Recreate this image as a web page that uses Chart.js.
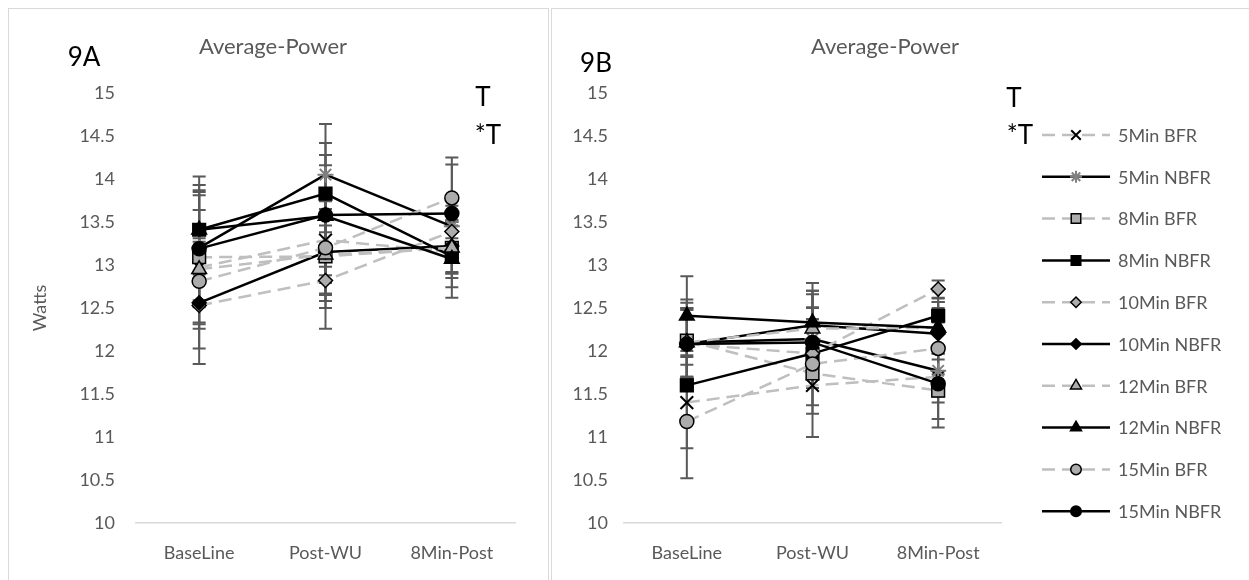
<!DOCTYPE html>
<html>
<head>
<meta charset="utf-8">
<script src="https://cdn.jsdelivr.net/npm/chart.js@4.4.1/dist/chart.umd.min.js"></script>
<style>
  html, body { margin: 0; padding: 0; background: #fff; }
  body { width: 1249px; height: 580px; position: relative; overflow: hidden; font-family: Lato, "Open Sans", sans-serif; }
  .panel { position: absolute; border: 1px solid #d9d9d9; box-sizing: border-box; }
  canvas { position: absolute; }
  .txt { position: absolute; white-space: nowrap; line-height: 1; transform: translate(-50%, -50%); }
  .tag { font-size: 26px; color: #000; }
  .ttl { font-size: 22px; color: #595959; }
</style>
</head>
<body>
<div class="panel" style="left:8px;top:8px;width:541px;height:600px;"></div>
<div class="panel" style="left:551px;top:8px;width:720px;height:600px;"></div>
<canvas id="chartA" width="540" height="572" style="left:8px;top:8px;"></canvas>
<canvas id="chartB" width="698" height="572" style="left:551px;top:8px;"></canvas>

<div class="txt tag" style="left:84px;top:56px;">9A</div>
<div class="txt ttl" style="left:273px;top:46px;">Average-Power</div>
<div class="txt tag" style="left:483px;top:96px;">T</div>
<div class="txt tag" style="left:488px;top:134px;">*T</div>

<div class="txt tag" style="left:596px;top:62px;">9B</div>
<div class="txt ttl" style="left:885px;top:46px;">Average-Power</div>
<div class="txt tag" style="left:1014px;top:97px;">T</div>
<div class="txt tag" style="left:1020px;top:134px;">*T</div>

<script>
// Time points on the x axis
const categories = ['BaseLine', 'Post-WU', '8Min-Post'];
const seriesNames = ['5Min BFR', '5Min NBFR', '8Min BFR', '8Min NBFR', '10Min BFR',
                     '10Min NBFR', '12Min BFR', '12Min NBFR', '15Min BFR', '15Min NBFR'];
// Watts axis
const yMin = 10;
const yMax = 15;
const yStep = 0.5;

// 9A: mean average power (W) per condition
const a5BFR   = [12.97, 13.29, 13.15];
const a5NBFR  = [13.20, 14.05, 13.45];
const a8BFR   = [13.09, 13.10, 13.20];
const a8NBFR  = [13.41, 13.83, 13.10];
const a10BFR  = [12.53, 12.82, 13.39];
const a10NBFR = [12.56, 13.15, 13.22];
const a12BFR  = [12.95, 13.12, 13.20];
const a12NBFR = [13.41, 13.57, 13.07];
const a15BFR  = [12.81, 13.20, 13.78];
const a15NBFR = [13.19, 13.58, 13.60];

// 9A: standard deviations
const a5BFRsd   = [0.45, 0.50, 0.30];
const a5NBFRsd  = [0.61, 0.59, 0.30];
const a8BFRsd   = [0.76, 0.43, 0.30];
const a8NBFRsd  = [0.52, 0.59, 0.36];
const a10BFRsd  = [0.50, 0.56, 0.30];
const a10NBFRsd = [0.71, 0.50, 0.30];
const a12BFRsd  = [0.69, 0.62, 0.30];
const a12NBFRsd = [0.62, 0.59, 0.45];
const a15BFRsd  = [0.50, 0.62, 0.47];
const a15NBFRsd = [0.68, 0.70, 0.57];

// 9B: mean average power (W) per condition
const b5BFR   = [11.40, 11.60, 11.70];
const b5NBFR  = [12.10, 12.14, 11.77];
const b8BFR   = [12.12, 11.74, 11.54];
const b8NBFR  = [11.60, 11.97, 12.41];
const b10BFR  = [12.08, 11.97, 12.72];
const b10NBFR = [12.08, 12.30, 12.20];
const b12BFR  = [12.10, 12.26, 12.27];
const b12NBFR = [12.41, 12.33, 12.27];
const b15BFR  = [11.18, 11.85, 12.03];
const b15NBFR = [12.08, 12.10, 11.62];

// 9B: standard deviations
const b5BFRsd   = [0.53, 0.33, 0.30];
const b5NBFRsd  = [0.40, 0.37, 0.30];
const b8BFRsd   = [0.44, 0.37, 0.43];
const b8NBFRsd  = [0.40, 0.40, 0.20];
const b10BFRsd  = [0.40, 0.40, 0.10];
const b10NBFRsd = [0.52, 0.40, 0.30];
const b12BFRsd  = [0.40, 0.40, 0.30];
const b12NBFRsd = [0.46, 0.46, 0.30];
const b15BFRsd  = [0.66, 0.85, 0.30];
const b15NBFRsd = [0.40, 0.40, 0.41];

const meansA = [a5BFR, a5NBFR, a8BFR, a8NBFR, a10BFR, a10NBFR, a12BFR, a12NBFR, a15BFR, a15NBFR];
const sdsA   = [a5BFRsd, a5NBFRsd, a8BFRsd, a8NBFRsd, a10BFRsd, a10NBFRsd, a12BFRsd, a12NBFRsd, a15BFRsd, a15NBFRsd];
const meansB = [b5BFR, b5NBFR, b8BFR, b8NBFR, b10BFR, b10NBFR, b12BFR, b12NBFR, b15BFR, b15NBFR];
const sdsB   = [b5BFRsd, b5NBFRsd, b8BFRsd, b8NBFRsd, b10BFRsd, b10NBFRsd, b12BFRsd, b12NBFRsd, b15BFRsd, b15NBFRsd];

// Marker shape per series; BFR rows are dashed grey, NBFR rows solid black
const markerShapes = ['crossRot', 'star', 'rect', 'rect', 'rectRot', 'rectRot', 'triangle', 'triangle', 'circle', 'circle'];
const markerRadius = { crossRot: 9, star: 8, rect: 9, rectRot: 7, triangle: 8.5, circle: 7 };

const FONT = 'Lato, "Open Sans", sans-serif';
const TEXT_GREY = '#595959';

function buildDatasets(means, sds) {
  return seriesNames.map((name, i) => {
    const bfr = !name.includes('NBFR');
    const shape = markerShapes[i];
    let fill = bfr ? '#acacac' : '#000000';
    let edge = '#000000';
    if (shape === 'crossRot') { fill = '#000000'; edge = '#000000'; }
    if (shape === 'star') { fill = '#808080'; edge = '#808080'; }
    return {
      label: name,
      data: means[i],
      errors: sds[i],
      borderColor: bfr ? '#bfbfbf' : '#000000',
      borderWidth: 2.5,
      borderDash: bfr ? [13, 7] : [],
      pointStyle: shape,
      pointRadius: markerRadius[shape],
      pointHoverRadius: markerRadius[shape],
      pointBackgroundColor: fill,
      pointBorderColor: edge,
      pointBorderWidth: (shape === 'crossRot' || shape === 'star') ? 2 : 1.5,
      tension: 0,
      fill: false,
      order: seriesNames.length - i
    };
  });
}

// Vertical SD whiskers with caps, drawn beneath lines and markers
const errorBars = {
  id: 'errorBars',
  beforeDatasetsDraw(chart) {
    const { ctx, scales: { x, y } } = chart;
    ctx.save();
    ctx.strokeStyle = '#595959';
    ctx.lineWidth = 2;
    chart.data.datasets.forEach(ds => {
      ds.data.forEach((v, i) => {
        const e = ds.errors[i];
        const px = x.getPixelForValue(i);
        const top = y.getPixelForValue(v + e);
        const bot = y.getPixelForValue(v - e);
        ctx.beginPath();
        ctx.moveTo(px, top); ctx.lineTo(px, bot);
        ctx.moveTo(px - 6.5, top); ctx.lineTo(px + 6.5, top);
        ctx.moveTo(px - 6.5, bot); ctx.lineTo(px + 6.5, bot);
        ctx.stroke();
      });
    });
    ctx.restore();
  }
};

// Legend column: line sample with centred marker, then the series name
const sideLegend = {
  id: 'sideLegend',
  afterDraw(chart, args, opts) {
    if (!opts.show) return;
    const ctx = chart.ctx;
    chart.data.datasets.forEach((ds, i) => {
      const y = opts.top + i * opts.step;
      ctx.save();
      ctx.strokeStyle = ds.borderColor;
      ctx.lineWidth = ds.borderWidth;
      ctx.setLineDash(ds.borderDash);
      ctx.beginPath();
      ctx.moveTo(opts.x0, y); ctx.lineTo(opts.x1, y);
      ctx.stroke();
      ctx.setLineDash([]);
      ctx.fillStyle = ds.pointBackgroundColor;
      ctx.strokeStyle = ds.pointBorderColor;
      ctx.lineWidth = ds.pointBorderWidth;
      Chart.helpers.drawPoint(ctx, {
        pointStyle: ds.pointStyle,
        radius: ds.pointRadius * 0.75,
        rotation: 0,
        borderWidth: ds.pointBorderWidth
      }, (opts.x0 + opts.x1) / 2, y);
      ctx.fillStyle = TEXT_GREY;
      ctx.font = '18px ' + FONT;
      ctx.textBaseline = 'middle';
      ctx.textAlign = 'left';
      ctx.fillText(ds.label, opts.textX, y + 1);
      ctx.restore();
    });
  }
};

function makeChart(id, means, sds, geo) {
  return new Chart(document.getElementById(id), {
    type: 'line',
    data: { labels: categories, datasets: buildDatasets(means, sds) },
    plugins: [errorBars, sideLegend],
    options: {
      responsive: false,
      animation: false,
      events: [],
      layout: { padding: geo.padding },
      plugins: {
        legend: { display: false },
        title: { display: false },
        tooltip: { enabled: false },
        sideLegend: geo.legend
      },
      scales: {
        x: {
          type: 'category',
          offset: true,
          grid: { display: false, drawTicks: false },
          border: { display: true, color: '#d9d9d9', width: 1.5 },
          ticks: { color: TEXT_GREY, font: { family: FONT, size: 18 }, padding: 19, maxRotation: 0 },
          afterFit(scale) { scale.height = 40; }
        },
        y: {
          min: yMin,
          max: yMax,
          grid: { display: false, drawTicks: false },
          border: { display: false },
          ticks: {
            stepSize: yStep,
            color: TEXT_GREY,
            font: { family: FONT, size: 18 },
            padding: geo.tickPad,
            callback: v => String(Math.round(v * 10) / 10)
          },
          title: geo.yTitle,
          afterFit(scale) { scale.width = geo.yWidth; }
        }
      }
    }
  });
}

makeChart('chartA', meansA, sdsA, {
  padding: { left: 21, right: 33, top: 85, bottom: 17 },
  yWidth: 107,
  tickPad: 21,
  yTitle: { display: true, text: 'Watts', color: TEXT_GREY, font: { family: FONT, size: 18 }, padding: 0 },
  legend: { show: false }
});

makeChart('chartB', meansB, sdsB, {
  padding: { left: 0, right: 248, top: 85, bottom: 17 },
  yWidth: 73,
  tickPad: 16,
  yTitle: { display: false },
  legend: { show: true, top: 127, step: 41.8, x0: 491, x1: 559, textX: 567 }
});
</script>
</body>
</html>
